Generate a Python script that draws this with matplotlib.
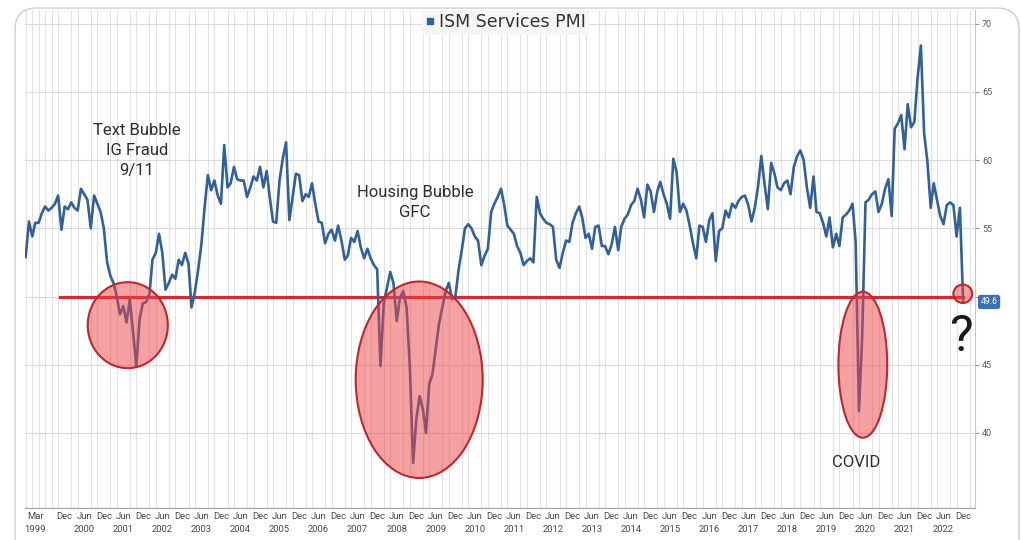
import numpy as np
import pandas as pd
import matplotlib
matplotlib.use('Agg')
import matplotlib.pyplot as plt
import matplotlib.dates as mdates
from matplotlib.patches import Ellipse, FancyBboxPatch
from matplotlib.lines import Line2D
from matplotlib.transforms import IdentityTransform

# ISM Services PMI, monthly, Dec 1998 .. Dec 2022
pmi_1998 = [52.9]
pmi_1999 = [55.5, 54.4, 55.4, 55.4, 56.1, 56.6, 56.3, 56.5, 56.8, 57.4, 54.9, 56.6]
pmi_2000 = [56.4, 56.9, 56.5, 56.3, 57.9, 57.5, 57.1, 55.0, 57.4, 56.8, 56.2, 55.0]
pmi_2001 = [52.5, 51.5, 51.0, 50.0, 48.7, 49.3, 48.1, 49.8, 47.3, 44.9, 48.4, 49.5]
pmi_2002 = [49.6, 50.2, 52.7, 53.2, 54.6, 53.2, 50.5, 51.0, 51.6, 51.3, 52.7, 52.3]
pmi_2003 = [53.2, 52.4, 49.2, 50.3, 51.9, 53.8, 56.5, 58.9, 57.8, 58.5, 57.4, 56.8]
pmi_2004 = [61.1, 58.0, 58.3, 59.5, 58.6, 58.5, 58.5, 57.3, 58.0, 58.8, 58.5, 59.5]
pmi_2005 = [58.0, 59.2, 57.3, 55.5, 55.4, 58.5, 60.1, 61.3, 55.6, 57.3, 59.0, 58.9]
pmi_2006 = [57.0, 57.5, 57.3, 58.3, 56.8, 55.5, 55.4, 53.9, 54.6, 54.9, 54.1, 55.2]
pmi_2007 = [54.1, 52.7, 53.0, 54.3, 54.0, 54.8, 53.6, 52.8, 53.5, 52.8, 52.3, 52.0]
pmi_2008 = [44.9, 49.5, 50.6, 51.8, 51.0, 48.2, 49.9, 50.4, 49.2, 44.9, 37.8, 41.0]
pmi_2009 = [42.7, 41.7, 40.0, 43.6, 44.3, 46.2, 48.0, 49.2, 50.4, 51.0, 49.8, 50.0]
pmi_2010 = [52.0, 53.5, 55.0, 55.3, 55.0, 54.4, 54.1, 52.3, 53.0, 53.5, 56.2, 56.8]
pmi_2011 = [57.3, 57.9, 56.8, 55.2, 54.9, 54.6, 53.7, 53.2, 52.3, 52.6, 52.8, 52.5]
pmi_2012 = [57.3, 56.1, 55.7, 55.4, 55.3, 55.1, 52.7, 52.1, 53.2, 54.1, 54.0, 55.4]
pmi_2013 = [56.1, 56.6, 55.8, 54.3, 54.6, 53.5, 55.1, 55.2, 53.7, 53.7, 53.1, 53.8]
pmi_2014 = [55.1, 53.4, 55.1, 55.7, 56.0, 56.7, 57.0, 57.9, 57.1, 55.8, 58.2, 57.7]
pmi_2015 = [56.2, 57.7, 58.4, 57.5, 56.8, 55.7, 60.1, 59.1, 56.2, 56.8, 56.3, 55.2]
pmi_2016 = [53.9, 52.8, 55.2, 55.1, 54.0, 55.6, 56.1, 52.6, 54.8, 55.0, 56.3, 55.8]
pmi_2017 = [56.8, 56.5, 57.0, 57.3, 57.4, 56.7, 55.5, 56.5, 58.1, 60.3, 58.2, 56.4]
pmi_2018 = [59.8, 59.0, 58.0, 57.8, 58.3, 58.5, 57.5, 59.5, 60.3, 60.7, 60.0, 58.0]
pmi_2019 = [56.5, 58.8, 56.2, 56.1, 55.4, 54.4, 55.8, 53.6, 54.6, 53.7, 55.8, 56.0]
pmi_2020 = [56.3, 56.8, 54.0, 41.6, 47.0, 56.9, 57.1, 57.5, 57.7, 56.2, 56.8, 57.9]
pmi_2021 = [58.6, 55.9, 62.3, 62.7, 63.3, 60.8, 64.1, 62.4, 62.8, 66.0, 68.4, 62.0]
pmi_2022 = [59.9, 56.5, 58.3, 57.1, 55.9, 55.3, 56.7, 56.9, 56.7, 54.4, 56.5, 49.6]

pmi = (pmi_1998 + pmi_1999 + pmi_2000 + pmi_2001 + pmi_2002 + pmi_2003 + pmi_2004
       + pmi_2005 + pmi_2006 + pmi_2007 + pmi_2008 + pmi_2009 + pmi_2010 + pmi_2011
       + pmi_2012 + pmi_2013 + pmi_2014 + pmi_2015 + pmi_2016 + pmi_2017 + pmi_2018
       + pmi_2019 + pmi_2020 + pmi_2021 + pmi_2022)
dates = pd.date_range('1998-12-01', periods=len(pmi), freq='MS')

label_years = list(range(2000, 2023))
threshold = 50
y_ticks = [40, 45, 50, 55, 60, 65, 70]

# hand-drawn annotations: (centre date, centre value, width in months, height)
bubbles = [
    ('2001-07-13', 47.9, 24.6, 6.3),
    ('2008-12-28', 43.9, 39.0, 14.4),
    ('2020-05-07', 45.0, 15.0, 10.7),
    ('2022-11-28', 50.2, 5.8, 1.35),
]
notes = [
    ('Text Bubble\nIG Fraud\n9/11', '2001-10-07', 60.7),
    ('Housing Bubble\nGFC', '2008-11-19', 56.9),
    ('COVID', '2020-03-07', 37.8),
]

FONT = 'Roboto'
BLUE = '#30609e'
RED = '#d42a2e'

fig = plt.figure(figsize=(10.21, 5.40), dpi=100)
ax = fig.add_axes([25/1021, 1 - 508/540, 950/1021, 498/540])

# outer rounded frame
frame = FancyBboxPatch((15, -30), 1004, 562, boxstyle='round,pad=0,rounding_size=22',
                       transform=IdentityTransform(), facecolor='none',
                       edgecolor='#cdcdcd', linewidth=1.0)
fig.add_artist(frame)

ax.plot(dates, pmi, color=BLUE, lw=1.9, zorder=3, solid_joinstyle='round')
ax.plot([pd.Timestamp('1999-10-15'), dates[-1]], [threshold, threshold],
        color=RED, lw=2.3, zorder=2.8)

for c, v, w, h in bubbles:
    e = Ellipse((mdates.date2num(pd.Timestamp(c)), v), w * 30.44, h,
                facecolor=(0.93, 0.27, 0.27, 0.5), edgecolor='#c0262c', lw=1.5, zorder=4)
    ax.add_patch(e)

for txt, d, v in notes:
    ax.text(pd.Timestamp(d), v, txt, ha='center', va='center', multialignment='center',
            fontsize=12, family=FONT, color='#2e2e2e', linespacing=1.38, zorder=6)
ax.text(pd.Timestamp('2022-11-13'), 47.0, '?', ha='center', va='center',
        fontsize=36, family=FONT, color='#1a1a1a', zorder=6)

# axes
ax.set_xlim(pd.Timestamp('1998-11-25'), pd.Timestamp('2023-03-22'))
ax.set_ylim(34.5, 71.0)

tick_dates = [pd.Timestamp('1999-03-01'), pd.Timestamp('1999-12-01')]
tick_labels = ['Mar\n1999', 'Dec']
for y in label_years:
    tick_dates += [pd.Timestamp(f'{y}-06-01'), pd.Timestamp(f'{y}-12-01')]
    tick_labels += [f'Jun\n{y}', 'Dec']
ax.set_xticks(tick_dates)
ax.set_xticklabels(tick_labels, fontsize=6.8, family=FONT, color='#4a4a4a')
for t in ax.get_xticklabels():
    t.set_linespacing(1.6)
ax.xaxis.set_minor_locator(mdates.MonthLocator(bymonth=[2, 4, 6, 8, 10, 12]))
ax.tick_params(axis='x', which='both', length=0, pad=3)

# the 50 label sits under the last-value tag, so it is left blank
ax.yaxis.tick_right()
ax.set_yticks(y_ticks)
ax.set_yticklabels(['' if v == threshold else str(v) for v in y_ticks], fontsize=6.5,
                   family=FONT, color='#5a5a5a')
ax.tick_params(axis='y', length=3, width=0.8, color='#999999', pad=2)

ax.grid(which='minor', axis='x', color='#e2e2e2', lw=0.8)
ax.grid(which='major', axis='y', color='#dadada', lw=0.8)
ax.grid(which='major', axis='x', visible=False)
ax.set_axisbelow(True)

for s in ['left', 'top']:
    ax.spines[s].set_visible(False)
ax.spines['right'].set_color('#c8c8c8')
ax.spines['bottom'].set_color('#a0a0a0')

# last value tag
ax.annotate(f'{pmi[-1]:.1f}', xy=(1.0, pmi[-1]), xycoords=('axes fraction', 'data'),
            xytext=(4, 0), textcoords='offset points', ha='left', va='center',
            fontsize=6.3, family=FONT, color='white', zorder=10,
            annotation_clip=False,
            bbox=dict(boxstyle='round,pad=0.3', facecolor='#3b6fb6', edgecolor='none'))

handle = Line2D([], [], marker='s', color=BLUE, linestyle='none', markersize=4)
leg = ax.legend([handle], ['ISM Services PMI'], loc='upper center',
                bbox_to_anchor=(0.506, 1.0), frameon=True, fancybox=False,
                facecolor='#f6f6f6', edgecolor='none', framealpha=1,
                fontsize=12.5, borderpad=0.2, handlelength=0.5, handletextpad=0.25,
                borderaxespad=0)
for t in leg.get_texts():
    t.set_color('#333333')

fig.savefig('out.png', dpi=100)
plt.close(fig)
